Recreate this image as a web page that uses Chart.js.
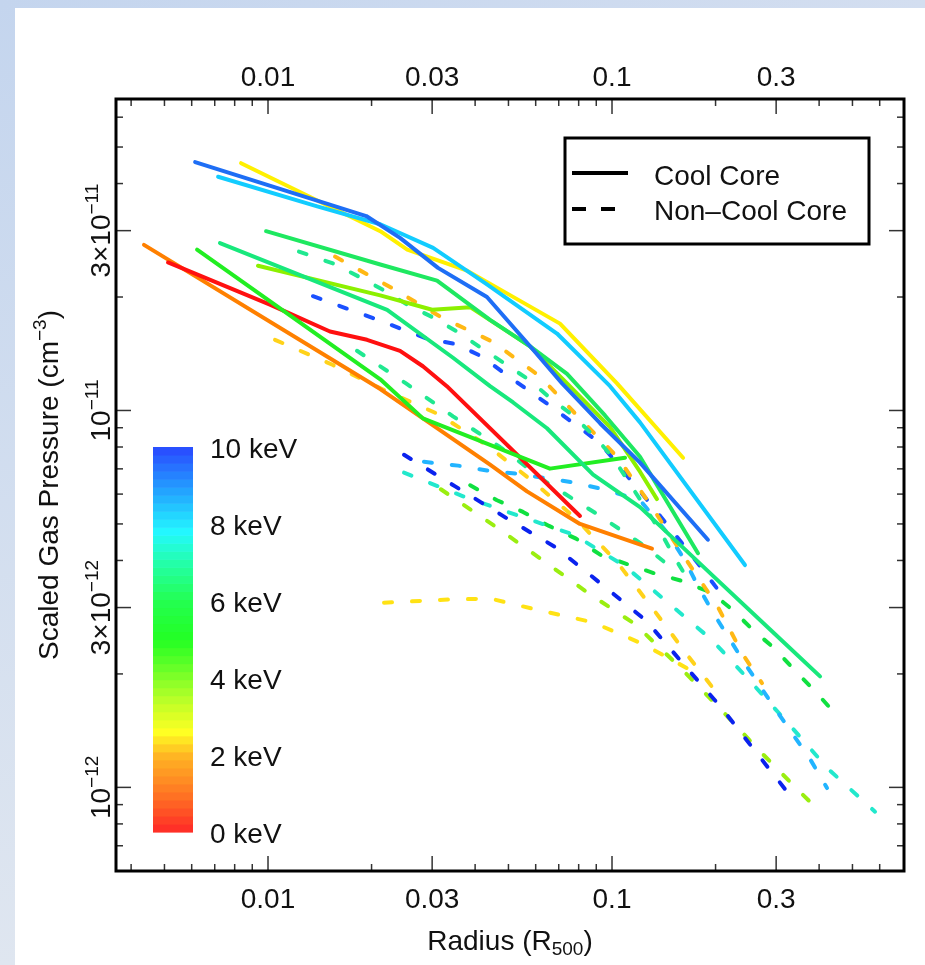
<!DOCTYPE html>
<html>
<head>
<meta charset="utf-8">
<script src="https://cdn.jsdelivr.net/npm/chart.js@4.4.0/dist/chart.umd.min.js"></script>
<style>
  html, body { margin: 0; padding: 0; background: #fff; }
  canvas { display: block; }
</style>
</head>
<body>
<canvas id="canvas" width="925" height="965"></canvas>
<script>
// radii in R500, pressures in units of 1e-12 cm^-3
var P_UNIT = 1e-12;

// cool core clusters (solid lines)
var ccBlueR = [0.00614, 0.0193, 0.0242, 0.0312, 0.0433, 0.0578, 0.0716, 0.0923, 0.1206, 0.190];
var ccBlueP = [45.6, 32.8, 28.7, 23.9, 20.0, 14.8, 11.8, 9.25, 7.27, 4.54];
var ccCyanR = [0.00716, 0.0139, 0.0212, 0.0302, 0.0433, 0.0692, 0.0987, 0.1206, 0.2435];
var ccCyanP = [41.7, 34.8, 31.2, 27.0, 21.6, 16.0, 11.6, 9.30, 3.89];
var ccYellowR = [0.00835, 0.0212, 0.0254, 0.0379, 0.0706, 0.1034, 0.1609];
var ccYellowP = [45.3, 29.9, 26.7, 23.5, 17.0, 11.8, 7.49];
var ccGreenR = [0.00987, 0.0212, 0.0310, 0.0442, 0.0578, 0.0740, 0.0954, 0.1206, 0.1778];
var ccGreenP = [29.9, 24.4, 22.1, 17.4, 14.8, 12.5, 9.70, 7.54, 4.18];
var ccSpringR = [0.00725, 0.0222, 0.0345, 0.0442, 0.0516, 0.0647, 0.0881, 0.1206, 0.1379, 0.1966, 0.2938, 0.4025];
var ccSpringP = [27.8, 18.5, 13.8, 11.6, 10.5, 8.97, 6.76, 5.54, 4.94, 3.64, 2.58, 1.97];
var ccLimeR = [0.00622, 0.0212, 0.0282, 0.0442, 0.0660, 0.1091];
var ccLimeP = [26.7, 12.1, 9.53, 8.10, 7.01, 7.49];
var ccChartR = [0.00935, 0.0212, 0.0300, 0.0387, 0.0578, 0.0740, 0.0987, 0.1206, 0.1351];
var ccChartP = [24.2, 20.2, 18.5, 18.8, 14.8, 11.8, 9.03, 6.88, 5.82];
var ccRedR = [0.00512, 0.01013, 0.01514, 0.0194, 0.0242, 0.0282, 0.0331, 0.0807];
var ccRedP = [24.7, 19.1, 16.2, 15.4, 14.4, 13.1, 11.6, 5.25];
var ccOrangeR = [0.00436, 0.0212, 0.0282, 0.0442, 0.0566, 0.0807, 0.1307];
var ccOrangeP = [27.5, 11.4, 9.53, 7.18, 6.10, 5.00, 4.30];

// non-cool core clusters (dashed lines)
var nccSpringR = [0.0123, 0.01555, 0.01863, 0.0220, 0.02535, 0.0300, 0.0354, 0.0419, 0.0495, 0.0578, 0.0660, 0.0770, 0.0893, 0.1007, 0.1247, 0.1388, 0.1525, 0.1686];
var nccSpringP = [26.4, 24.5, 22.5, 20.7, 19.1, 17.7, 16.2, 14.6, 13.2, 12.0, 10.8, 9.70, 8.50, 7.49, 5.54, 4.74, 4.05, 3.49];
var nccAmberR = [0.01566, 0.02278, 0.0318, 0.0451, 0.0618, 0.0791, 0.1041, 0.1307, 0.1609, 0.202, 0.2403, 0.2729];
var nccAmberP = [25.6, 21.2, 17.7, 15.2, 12.3, 9.70, 7.49, 5.54, 4.13, 3.04, 2.25, 1.89];
var nccBlueR = [0.01351, 0.0205, 0.0290, 0.0352, 0.0419, 0.0489, 0.0660, 0.0923, 0.1316, 0.1686, 0.2174];
var nccBlueP = [20.1, 17.5, 15.5, 15.0, 13.9, 12.5, 10.3, 8.20, 5.54, 4.18, 3.09];
var nccNavyR = [0.02485, 0.0350, 0.0492, 0.0687, 0.0929, 0.1256, 0.1609, 0.2088, 0.2640, 0.3404];
var nccNavyP = [7.63, 6.29, 5.19, 4.33, 3.47, 2.77, 2.13, 1.62, 1.23, 0.916];
var nccSkyR = [0.0284, 0.0357, 0.0433, 0.0526, 0.0647, 0.0775, 0.0942, 0.1206, 0.1455, 0.1630, 0.1778, 0.1966, 0.2435, 0.3018, 0.3763, 0.4217];
var nccSkyP = [7.31, 7.14, 6.93, 6.80, 6.60, 6.44, 6.18, 5.78, 4.71, 4.00, 3.42, 2.91, 2.13, 1.59, 1.19, 0.996];
var nccTealR = [0.02485, 0.0369, 0.0537, 0.0775, 0.1091, 0.1455, 0.1953, 0.2553, 0.3292, 0.4246, 0.5815];
var nccTealP = [6.84, 5.92, 5.25, 4.68, 3.86, 3.09, 2.46, 1.89, 1.46, 1.12, 0.862];
var nccLimeR = [0.0318, 0.0451, 0.0618, 0.0852, 0.1167, 0.1545, 0.2033, 0.2640, 0.3473, 0.3970];
var nccLimeP = [6.18, 4.97, 4.05, 3.28, 2.71, 2.12, 1.64, 1.27, 0.984, 0.873];
var nccGreenR = [0.0387, 0.0463, 0.0551, 0.0656, 0.0786, 0.0929, 0.1325, 0.1598, 0.1953, 0.2248, 0.2553, 0.2977, 0.3404, 0.3891, 0.4539];
var nccGreenP = [6.33, 5.78, 5.38, 4.94, 4.57, 4.13, 3.70, 3.53, 3.28, 2.95, 2.63, 2.33, 2.04, 1.80, 1.54];
var nccMintR = [0.01814, 0.02518, 0.0345, 0.04725, 0.0647, 0.0923, 0.1247, 0.1455];
var nccMintP = [14.4, 11.8, 9.65, 8.00, 6.44, 5.25, 4.36, 3.89];
var nccGoldR = [0.01048, 0.01545, 0.02188, 0.0314, 0.0436, 0.0589, 0.0786, 0.1034, 0.1307, 0.1652, 0.2088];
var nccGoldP = [15.4, 13.2, 11.3, 9.76, 8.05, 6.48, 5.16, 3.96, 3.00, 2.25, 1.71];
var nccYellowR = [0.02174, 0.0334, 0.0442, 0.0605, 0.0881, 0.1231, 0.1686];
var nccYellowP = [3.09, 3.15, 3.17, 2.96, 2.74, 2.40, 2.05];

// axis ticks and colour bar labels
var xMajor = [0.01, 0.03, 0.1, 0.3];
var xMajorText = ['0.01', '0.03', '0.1', '0.3'];
var xMinor = [0.004, 0.005, 0.006, 0.007, 0.008, 0.009, 0.02, 0.04, 0.05, 0.06, 0.07, 0.08, 0.09, 0.2, 0.4, 0.5, 0.6];
var yMajor = [1e-12, 3e-12, 1e-11, 3e-11];
var yMajorText = [['10', '\u221212'], ['3\u00d710', '\u221212'], ['10', '\u221211'], ['3\u00d710', '\u221211']];
var yMinor = [7e-13, 8e-13, 9e-13, 2e-12, 4e-12, 5e-12, 6e-12, 7e-12, 8e-12, 9e-12, 2e-11, 4e-11, 5e-11, 6e-11];
var barKeV = [0, 2, 4, 6, 8, 10];

// colour map of the temperature bar: [keV, r, g, b]
var cmap = [
  [0, 255, 40, 40], [1, 255, 118, 35], [2, 255, 182, 35], [2.6, 255, 255, 35],
  [3.5, 180, 255, 40], [4.3, 100, 255, 40], [5, 35, 255, 35], [6, 35, 255, 80],
  [7, 35, 255, 170], [7.8, 35, 248, 255], [8.9, 35, 160, 255], [10, 42, 72, 255]
];

var profiles = [
  [ccBlueR, ccBlueP, '#1e6ef5', false],
  [ccCyanR, ccCyanP, '#12ccff', false],
  [ccYellowR, ccYellowP, '#fff000', false],
  [ccGreenR, ccGreenP, '#1ee860', false],
  [ccSpringR, ccSpringP, '#18e87c', false],
  [ccLimeR, ccLimeP, '#22ee22', false],
  [ccChartR, ccChartP, '#8cf000', false],
  [ccRedR, ccRedP, '#ff1010', false],
  [ccOrangeR, ccOrangeP, '#ff8000', false],
  [nccSpringR, nccSpringP, '#20e890', true],
  [nccAmberR, nccAmberP, '#ffb814', true],
  [nccBlueR, nccBlueP, '#1a50ff', true],
  [nccNavyR, nccNavyP, '#0a22ee', true],
  [nccSkyR, nccSkyP, '#22b4ff', true],
  [nccTealR, nccTealP, '#22e8cc', true],
  [nccLimeR, nccLimeP, '#9aee10', true],
  [nccGreenR, nccGreenP, '#10e040', true],
  [nccMintR, nccMintP, '#20e890', true],
  [nccGoldR, nccGoldP, '#ffd21a', true],
  [nccYellowR, nccYellowP, '#ffe214', true]
];

var FONT = '"Liberation Sans", Arial, Helvetica, sans-serif';

function cmapColor(kT) {
  for (var i = 1; i < cmap.length; i++) {
    if (kT <= cmap[i][0]) {
      var a = cmap[i - 1], b = cmap[i];
      var t = (kT - a[0]) / (b[0] - a[0]);
      return 'rgb(' + [1, 2, 3].map(function (k) {
        return Math.round(a[k] + (b[k] - a[k]) * t);
      }).join(',') + ')';
    }
  }
  var l = cmap[cmap.length - 1];
  return 'rgb(' + l[1] + ',' + l[2] + ',' + l[3] + ')';
}

// draw a run of [text, size, dy] pieces centred or left aligned at x
function drawRun(ctx, parts, x, y, align) {
  var w = 0;
  parts.forEach(function (p) {
    ctx.font = p[1] + 'px ' + FONT;
    p.w = ctx.measureText(p[0]).width;
    w += p.w;
  });
  var cx = align === 'center' ? x - w / 2 : x;
  ctx.textAlign = 'left';
  parts.forEach(function (p) {
    ctx.font = p[1] + 'px ' + FONT;
    ctx.fillText(p[0], cx, y + p[2]);
    cx += p.w;
  });
}

function seg(ctx, x0, y0, x1, y1) {
  ctx.beginPath();
  ctx.moveTo(x0, y0);
  ctx.lineTo(x1, y1);
  ctx.stroke();
}

var decor = {
  id: 'decor',
  beforeDraw: function (chart) {
    var ctx = chart.ctx;
    ctx.save();
    ctx.fillStyle = '#ffffff';
    ctx.fillRect(0, 0, chart.width, chart.height);
    var g = ctx.createLinearGradient(0, 0, 0, chart.height);
    g.addColorStop(0, '#c4d5ee');
    g.addColorStop(1, '#dfe6f0');
    ctx.fillStyle = g;
    ctx.fillRect(0, 0, 15, chart.height);
    var h = ctx.createLinearGradient(0, 0, chart.width, 0);
    h.addColorStop(0, '#c4d5ee');
    h.addColorStop(1, '#d3def0');
    ctx.fillStyle = h;
    ctx.fillRect(0, 0, chart.width, 8);
    ctx.restore();
  },
  afterDraw: function (chart) {
    var ctx = chart.ctx, a = chart.chartArea;
    var xs = chart.scales.x, ys = chart.scales.y;
    ctx.save();

    // inward ticks on all four sides
    ctx.strokeStyle = '#333';
    ctx.lineWidth = 1.5;
    xMinor.forEach(function (v) {
      var px = xs.getPixelForValue(v);
      seg(ctx, px, a.bottom, px, a.bottom - 7);
      seg(ctx, px, a.top, px, a.top + 7);
    });
    xMajor.forEach(function (v) {
      var px = xs.getPixelForValue(v);
      seg(ctx, px, a.bottom, px, a.bottom - 15);
      seg(ctx, px, a.top, px, a.top + 15);
    });
    yMinor.forEach(function (v) {
      var py = ys.getPixelForValue(v);
      seg(ctx, a.left, py, a.left + 7, py);
      seg(ctx, a.right, py, a.right - 7, py);
    });
    yMajor.forEach(function (v) {
      var py = ys.getPixelForValue(v);
      seg(ctx, a.left, py, a.left + 15, py);
      seg(ctx, a.right, py, a.right - 15, py);
    });

    ctx.strokeStyle = '#000';
    ctx.lineWidth = 3;
    ctx.strokeRect(a.left, a.top, a.right - a.left, a.bottom - a.top);

    // tick labels
    ctx.fillStyle = '#111';
    ctx.textBaseline = 'alphabetic';
    xMajor.forEach(function (v, i) {
      var px = xs.getPixelForValue(v);
      drawRun(ctx, [[xMajorText[i], 28, 0]], px, a.bottom + 37, 'center');
      drawRun(ctx, [[xMajorText[i], 28, 0]], px, a.top - 13, 'center');
    });
    yMajor.forEach(function (v, i) {
      var py = ys.getPixelForValue(v);
      ctx.save();
      ctx.translate(a.left - 6, py);
      ctx.rotate(-Math.PI / 2);
      drawRun(ctx, [[yMajorText[i][0], 28, 0], [yMajorText[i][1], 19, -12]], 0, 0, 'center');
      ctx.restore();
    });

    // axis titles
    drawRun(ctx, [['Radius (R', 28, 0], ['500', 19, 5], [')', 28, 0]],
      (a.left + a.right) / 2, a.bottom + 79, 'center');
    ctx.save();
    ctx.translate(58, (a.top + a.bottom) / 2);
    ctx.rotate(-Math.PI / 2);
    drawRun(ctx, [['Scaled Gas Pressure (cm', 28, 0], ['\u22123', 19, -12], [')', 28, 0]], 0, 0, 'center');
    ctx.restore();

    // legend box
    ctx.strokeStyle = '#000';
    ctx.lineWidth = 3;
    ctx.strokeRect(565, 138, 304, 106);
    ctx.lineWidth = 4;
    seg(ctx, 572, 173, 628, 173);
    ctx.setLineDash([14, 15]);
    seg(ctx, 572, 209, 630, 209);
    ctx.setLineDash([]);
    drawRun(ctx, [['Cool Core', 28, 0]], 654, 185, 'left');
    drawRun(ctx, [['Non\u2013Cool Core', 28, 0]], 654, 220, 'left');

    // temperature colour bar
    var top = 447, bot = 832, n = 48, step = (bot - top) / n;
    for (var i = 0; i < n; i++) {
      ctx.fillStyle = cmapColor((i + 0.5) / n * 10);
      ctx.fillRect(153, bot - (i + 1) * step, 40, step + 0.6);
    }
    ctx.fillStyle = '#111';
    barKeV.forEach(function (k) {
      var y = bot - k / 10 * (bot - top) + 11;
      drawRun(ctx, [[k + ' keV', 28, 0]], 210, y, 'left');
    });
    ctx.restore();
  }
};

var datasets = profiles.map(function (p) {
  return {
    data: p[0].map(function (r, i) { return { x: r, y: p[1][i] * P_UNIT }; }),
    borderColor: p[2],
    borderWidth: 4,
    borderDash: p[3] ? [8, 20] : [],
    borderCapStyle: 'round',
    borderJoinStyle: 'round',
    pointRadius: 0,
    tension: 0,
    fill: false
  };
});

window.onload = function () {
  var ctx = document.getElementById('canvas').getContext('2d');
  window.myChart = new Chart(ctx, {
    type: 'line',
    data: { datasets: datasets },
    plugins: [decor],
    options: {
      responsive: false,
      devicePixelRatio: 1,
      animation: false,
      events: [],
      layout: { padding: { left: 116, top: 99, right: 21, bottom: 94 } },
      plugins: { legend: { display: false }, tooltip: { enabled: false } },
      scales: {
        x: { type: 'logarithmic', min: 0.003615, max: 0.706, display: false },
        y: { type: 'logarithmic', min: 6.42e-13, max: 6.705e-11, display: false }
      }
    }
  });
};
</script>
</body>
</html>
